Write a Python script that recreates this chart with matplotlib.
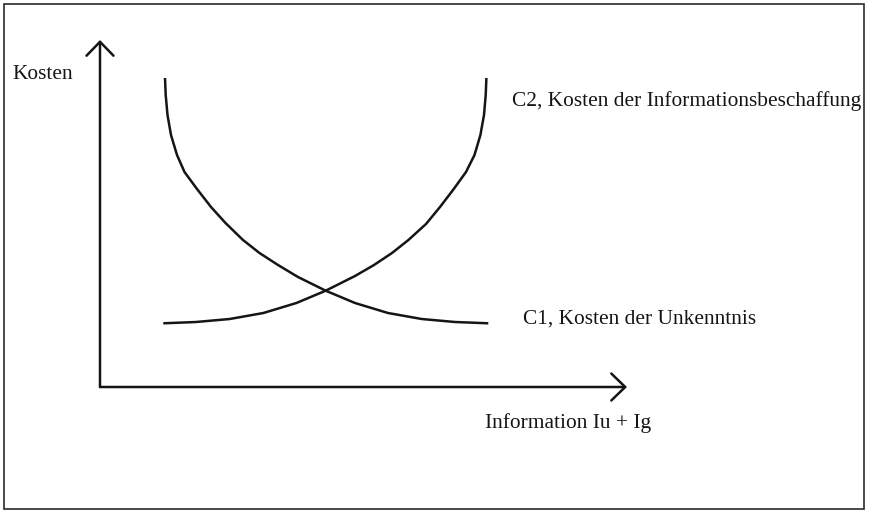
import matplotlib
matplotlib.use("Agg")
import matplotlib.pyplot as plt
from matplotlib.patches import Rectangle

plt.rcParams['font.family'] = ['Liberation Serif', 'DejaVu Serif']

# Curves (x = information, y = cost, origin at the axes corner)
c1_x = [65, 65.7, 67.5, 71, 77, 84.5, 97, 111, 125.5, 143, 159.5, 178, 198,
        225.7, 255, 288, 321.7, 355, 388.3]
c1_y = [309, 292, 272, 252, 232, 215, 198, 180, 164, 147, 134, 122, 110,
        96.3, 84, 74, 68, 65, 63.7]

c2_x = [63.3, 96, 129.7, 163.4, 196.4, 225.7, 255, 274, 292, 308.4, 326,
        340, 353, 366, 374.5, 380.4, 384, 385.7, 386.4]
c2_y = [63.7, 65, 68, 74, 84, 96.3, 111, 122, 134, 147, 163,
        180, 197, 215, 232, 252, 272, 292, 309]

x_axis_end = 527
y_axis_end = 347

label_y = "Kosten"
label_x = "Information Iu + Ig"
label_c1 = "C1, Kosten der Unkenntnis"
label_c2 = "C2, Kosten der Informationsbeschaffung"

fig = plt.figure(figsize=(8.7, 5.11), dpi=100)
ax = fig.add_axes([0, 0, 1, 1])
ax.set_xlim(-100, 770)
ax.set_ylim(-124, 387)
ax.axis('off')

# outer frame
fig.patches.append(Rectangle((4 / 870, 2 / 511), 860 / 870, 505 / 511,
                             transform=fig.transFigure, fill=False,
                             edgecolor='#2a2a2a', lw=1.2))

ink = '#151515'
lw = 1.8
arrow = dict(arrowstyle='->,head_length=1.0,head_width=0.97', lw=lw,
             color=ink, mutation_scale=10, shrinkA=0, shrinkB=0)
ax.annotate('', xy=(x_axis_end, 0), xytext=(0, 0), arrowprops=arrow)
ax.annotate('', xy=(0, y_axis_end), xytext=(0, 0), arrowprops=arrow)

ax.plot(c1_x, c1_y, color=ink, lw=lw, solid_capstyle='butt', solid_joinstyle='round')
ax.plot(c2_x, c2_y, color=ink, lw=lw, solid_capstyle='butt', solid_joinstyle='round')

fs = 15.4
ax.text(-88, 308, label_y, fontsize=fs, va='baseline', ha='left', color=ink)
ax.text(412, 281, label_c2, fontsize=fs, va='baseline', ha='left', color=ink)
ax.text(423, 63, label_c1, fontsize=fs, va='baseline', ha='left', color=ink)
ax.text(385, -41, label_x, fontsize=fs, va='baseline', ha='left', color=ink)

fig.savefig('out.png', dpi=100)
